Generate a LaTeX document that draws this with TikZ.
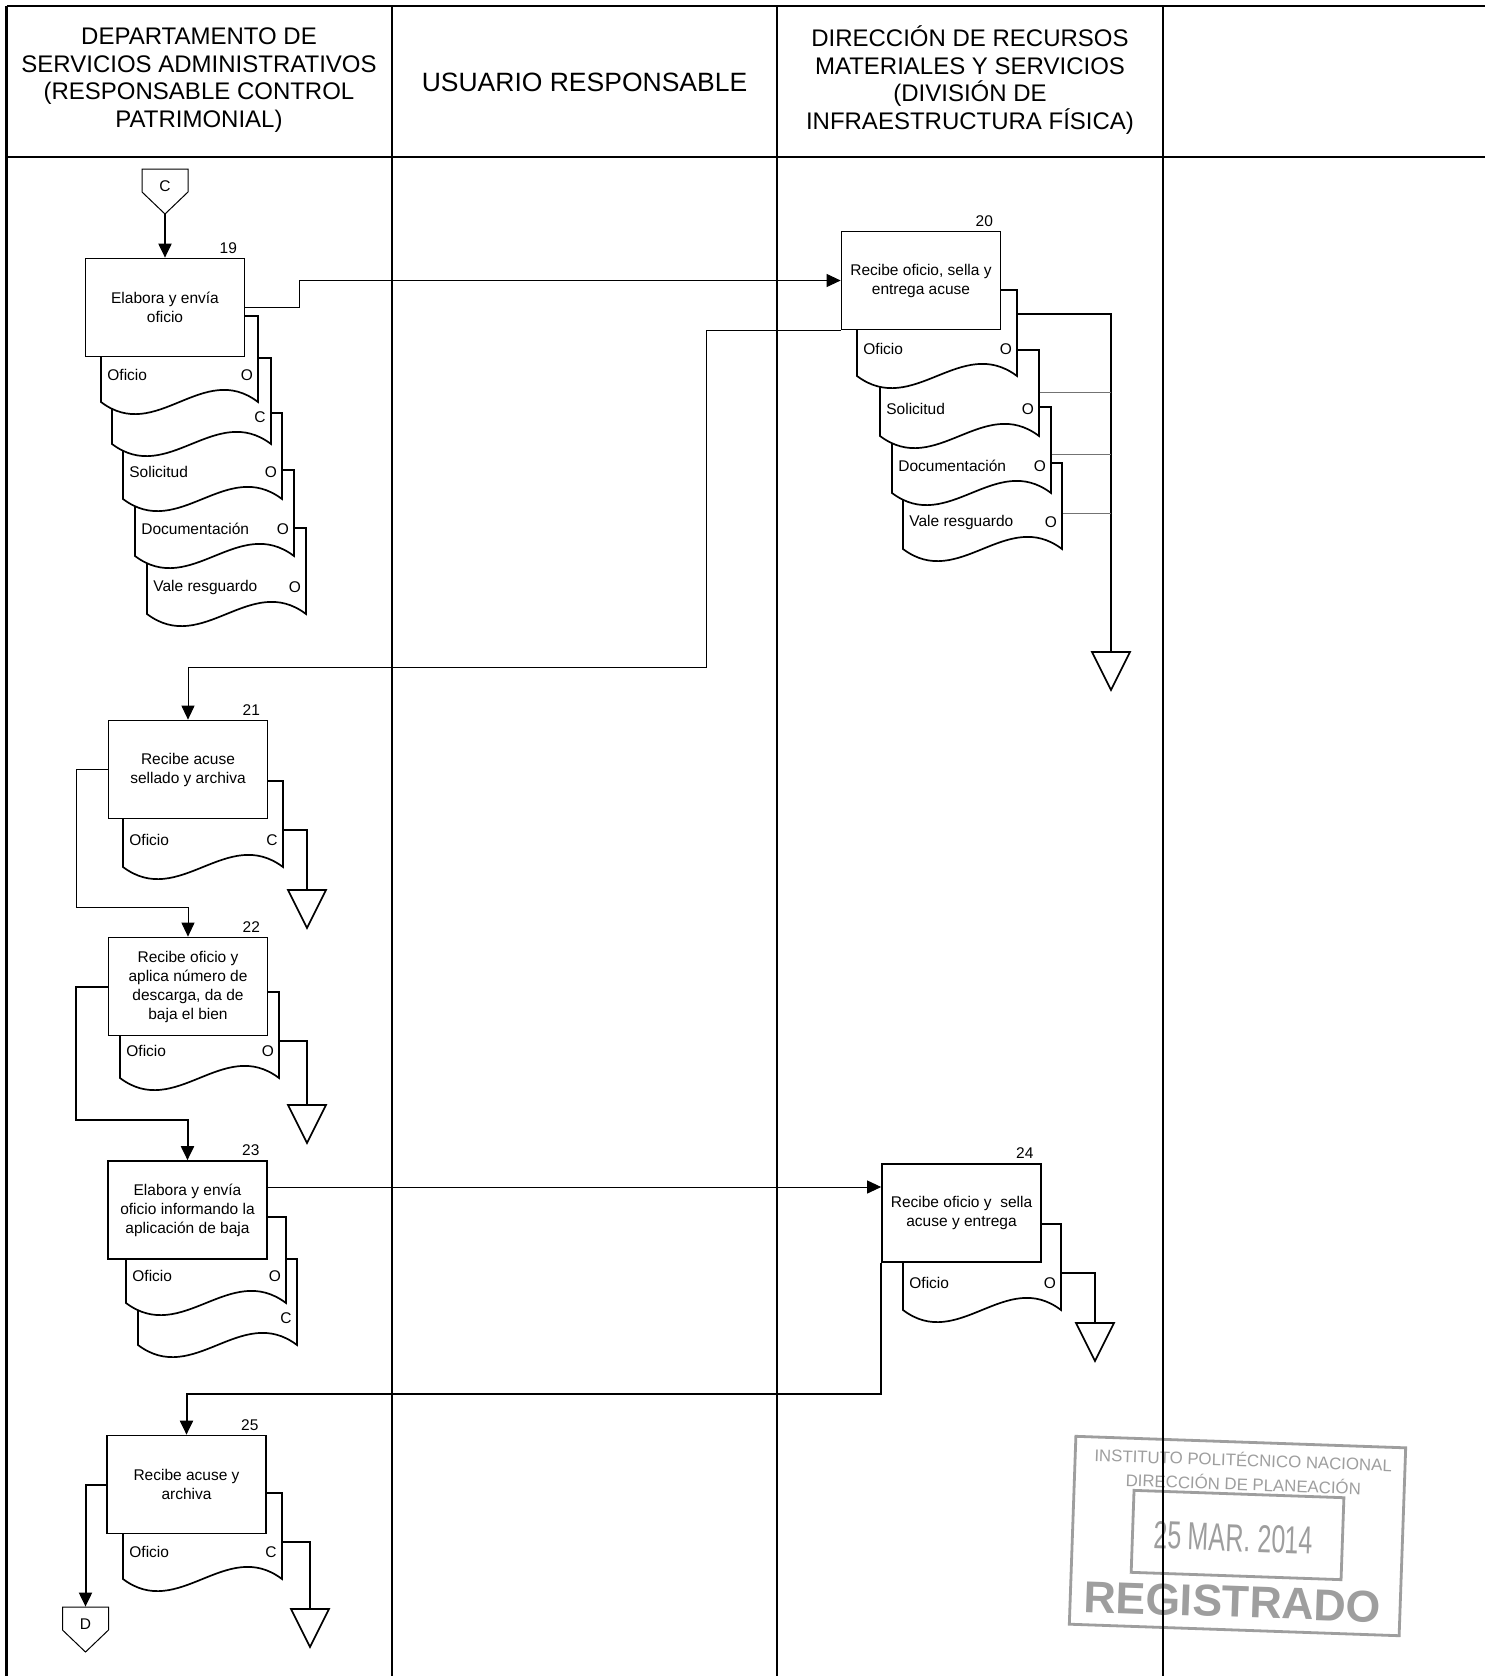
\documentclass[tikz,border=0pt]{standalone}
\usepackage{fontspec}
\setmainfont{Liberation Sans}
\usetikzlibrary{arrows.meta,calc}
\tikzset{
  frameline/.style={line width=1.2pt},
  taskbox/.style={draw, line width=0.85pt, fill=white, minimum width=79.5pt, minimum height=49pt, inner sep=1pt, align=center, font=\fontsize{7.75}{9.5}\selectfont},
  docline/.style={draw, line width=0.85pt, fill=white},
  docnode/.style={inner sep=0pt, minimum height=49pt},
  doctext/.style={inner sep=0pt, font=\fontsize{7.75}{9.5}\selectfont},
  numtext/.style={inner sep=0pt, font=\fontsize{7.75}{9.5}\selectfont, anchor=south east},
  hdr/.style={align=center, font=\fontsize{12}{13.75}\selectfont, inner sep=0pt},
  thickflow/.style={line width=1pt},
  thinflow/.style={line width=0.5pt},
  arr/.style={-{Triangle[length=7pt,width=6.5pt]}},
  graylink/.style={line width=0.5pt, draw=black!55},
  mergeshape/.style={draw, line width=0.85pt, fill=white, line join=miter},
  offline/.style={draw, line width=0.5pt, fill=white},
  stampc/.style={draw=black!38, text=black!38},
}
% name, L, T, R, left label, right label
\newcommand\flowdoc[6]{%
  \filldraw[docline] (#2,#3) -- (#4,#3) -- (#4,{#3+86})
    .. controls ({#4-0.35*(#4-#2)},{#3+86-42}) and ({#4-0.65*(#4-#2)},{#3+86+42}) .. (#2,{#3+86}) -- cycle;
  \node[docnode, minimum width={(#4-#2)*0.5pt}, anchor=north west] (#1) at (#2,#3) {};
  \node[doctext, anchor=west] (#1l) at ({#2+6},{#3+59}) {#5};
  \node[doctext] (#1r) at ({#4-11},{#3+59}) {#6};
}
% name, cx, top
\newcommand\mergetri[3]{%
  \coordinate (#1) at (#2,#3);
  \draw[mergeshape] ({#2-19},#3) -- ({#2+19},#3) -- (#2,{#3+38}) -- cycle;
}
% name, cx, top, letter
\newcommand\offpg[4]{%
  \draw[offline] ({#2-23},#3) -- ({#2+23},#3) -- ({#2+23},{#3+23}) -- (#2,{#3+45}) -- ({#2-23},{#3+23}) -- cycle;
  \node[inner sep=0pt, minimum width=23pt, minimum height=22.5pt] (#1) at (#2,{#3+22.5}) {};
  \node[doctext] (#1t) at (#2,{#3+17}) {#4};
}
\begin{document}
\begin{tikzpicture}[x=0.5pt, y=-0.5pt]
\useasboundingbox (0,0) rectangle (1485,1676);
\fill[white] (0,0) rectangle (1485,1676);

% ---------- stamp ----------
\begin{scope}[shift={(1237.5,1536)}, rotate=-2, transform shape, stampc]
  \draw[line width=1.4pt] (-165,-94) rectangle (165,94);
  \draw[line width=1.4pt] (-105,-42) rectangle (105,40);
  \node[inner sep=0pt, font=\fontsize{8.4}{9}\selectfont] (s1) at (3,-77) {INSTITUTO POLITÉCNICO NACIONAL};
  \node[inner sep=0pt, font=\fontsize{8.4}{9}\selectfont] (s2) at (4,-53) {DIRECCIÓN DE PLANEACIÓN};
  \node[inner sep=0pt, xscale=0.64, font=\fontsize{19.5}{20}\selectfont] (s3) at (-4,2) {25 MAR. 2014};
  \node[inner sep=0pt, font=\bfseries\fontsize{22.3}{24}\selectfont] (s4) at (-3,66) {REGISTRADO};
\end{scope}

% ---------- frame ----------
\draw[frameline] (6.5,6) -- (1485,6);
\draw[frameline] (6.5,157) -- (1485,157);
\foreach \xx in {6.5,392,777,1163} { \draw[frameline] (\xx,6) -- (\xx,1676); }

\node[hdr] (h1) at (199,80) {DEPARTAMENTO DE\\SERVICIOS ADMINISTRATIVOS\\(RESPONSABLE CONTROL\\PATRIMONIAL)};
\node[hdr, font=\fontsize{13.25}{15}\selectfont] (h2) at (584.5,82) {USUARIO RESPONSABLE};
\node[hdr] (h3) at (970,80) {DIRECCIÓN DE RECURSOS\\MATERIALES Y SERVICIOS\\(DIVISIÓN DE\\INFRAESTRUCTURA FÍSICA)};

% ---------- step 19 ----------
\offpg{C}{165}{169}{C}
\flowdoc{d19e}{147}{528}{306}{Vale resguardo}{O}
\flowdoc{d19d}{135}{470}{294}{Documentación}{O}
\flowdoc{d19c}{123}{413}{282}{Solicitud}{O}
\flowdoc{d19b}{112}{358}{271}{}{C}
\flowdoc{d19a}{101}{316}{258}{Oficio}{O}
\node[taskbox] (b19) at (165,307.5) {Elabora y envía\\oficio};
\node[numtext] (n19) at ([xshift=-4pt,yshift=2pt]b19.north east) {19};

% ---------- step 20 ----------
\flowdoc{d20d}{903}{463}{1062}{Vale resguardo}{O}
\flowdoc{d20c}{892}{407}{1051}{Documentación}{O}
\flowdoc{d20b}{880}{350}{1039}{Solicitud}{O}
\flowdoc{d20a}{857}{290}{1017}{Oficio}{O}
\node[taskbox] (b20) at (921,280.5) {Recibe oficio, sella y\\entrega acuse};
\node[numtext] (n20) at ([xshift=-4pt,yshift=2pt]b20.north east) {20};
\mergetri{m20}{1111}{652}

% ---------- step 21 ----------
\flowdoc{d21}{123}{781}{283}{Oficio}{C}
\node[taskbox] (b21) at (188,769.5) {Recibe acuse\\sellado y archiva};
\node[numtext] (n21) at ([xshift=-4pt,yshift=2pt]b21.north east) {21};
\mergetri{m21}{307}{890}

% ---------- step 22 ----------
\flowdoc{d22}{120}{992}{279}{Oficio}{O}
\node[taskbox] (b22) at (188,986.5) {Recibe oficio y\\aplica número de\\descarga, da de\\baja el bien};
\node[numtext] (n22) at ([xshift=-4pt,yshift=2pt]b22.north east) {22};
\mergetri{m22}{307}{1105}

% ---------- step 23 ----------
\flowdoc{d23b}{138}{1259}{297}{}{C}
\flowdoc{d23a}{126}{1217}{286}{Oficio}{O}
\node[taskbox] (b23) at (187.5,1210) {Elabora y envía\\oficio informando la\\aplicación de baja};
\node[numtext] (n23) at ([xshift=-4pt,yshift=2pt]b23.north east) {23};

% ---------- step 24 ----------
\flowdoc{d24}{903}{1224}{1061}{Oficio}{O}
\node[taskbox] (b24) at (961.5,1213) {Recibe oficio y\ \ sella\\acuse y entrega};
\node[numtext] (n24) at ([xshift=-4pt,yshift=2pt]b24.north east) {24};
\mergetri{m24}{1095}{1323}

% ---------- step 25 ----------
\flowdoc{d25}{123}{1493}{282}{Oficio}{C}
\node[taskbox] (b25) at (186.5,1484.5) {Recibe acuse y\\archiva};
\node[numtext] (n25) at ([xshift=-4pt,yshift=2pt]b25.north east) {25};
\mergetri{m25}{310}{1609}
\offpg{D}{85.5}{1607}{D}

% ---------- connectors ----------
\draw[thickflow,arr] (C.south) -- (C.south |- b19.north);
\draw[thinflow,arr] (b19.east) -- ++(54,0) |- (b20.west);
\draw[thinflow,arr] (b20.south west) -- ++(-134,0) -- ++(0,337.5) -| (b21.north);
\draw[thinflow,arr] (b21.west) -- ++(-31,0) -- ++(0,137.5) -| (b22.north);
\draw[thickflow,arr] (b22.west) -- ++(-32,0) -- ++(0,133.5) -| (b23.north);
\draw[thinflow,arr] ([yshift=11.5pt]b23.east) -- ([yshift=11.5pt]b23.east -| b24.west);
\draw[thickflow,arr] (b24.south west) -- ++(0,131) -| (b25.north);
\draw[thickflow,arr] (b25.west) -| (D.north);

\draw[thickflow] ([yshift=12.5pt]d20a.east) -| (m20);
\draw[graylink] ([yshift=3.5pt]d20b.east) -- ([yshift=3.5pt]d20b.east -| m20);
\draw[graylink] ([yshift=1pt]d20c.east) -- ([yshift=1pt]d20c.east -| m20);
\draw[graylink] ([yshift=-0.5pt]d20d.east) -- ([yshift=-0.5pt]d20d.east -| m20);
\draw[thickflow] (d21.east) -| (m21);
\draw[thickflow] (d22.east) -| (m22);
\draw[thickflow] (d24.east) -| (m24);
\draw[thickflow] (d25.east) -| (m25);
\end{tikzpicture}
\end{document}
